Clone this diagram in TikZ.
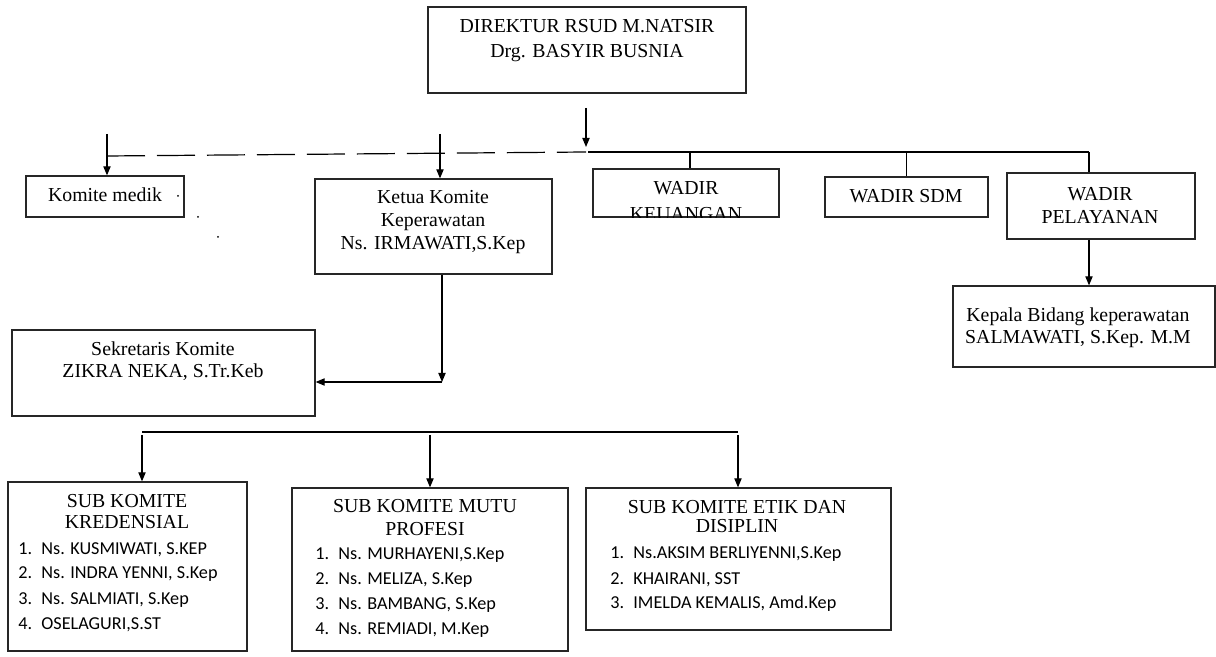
\documentclass[tikz,border=0pt]{standalone}
\usepackage{fontspec}
\setmainfont{Liberation Serif}
\newfontfamily\listfont{Carlito}
\usetikzlibrary{arrows.meta,positioning}
\newcommand{\numlabel}[1]{\makebox[11.5pt][l]{#1}}

\begin{document}
\begin{tikzpicture}[x=0.5pt,y=-0.5pt,
    box/.style={draw=black!85,line width=0.6pt,inner sep=0pt},
    txt/.style={align=center,inner sep=0pt,font=\fontsize{9.9}{11.5}\selectfont},
    lst/.style={align=left,inner sep=0pt,font=\listfont\fontsize{9.1}{12.5}\selectfont},
    arr/.style={line width=0.6pt,-{Triangle[length=4.5pt,width=3.6pt]}},
    link/.style={line width=0.6pt}]
    \useasboundingbox (0,0) rectangle (1216,657);

    % Direktur (anchor base = baris terakhir)
    \node[box,minimum width=159pt,minimum height=43pt] (dir) at (587,50) {};
    \node[txt,anchor=base,font=\fontsize{9.9}{12.5}\selectfont] (dir-t) at (587,58) {DIREKTUR RSUD M.NATSIR\\Drg. BASYIR BUSNIA};

    % Baris kedua
    \node[box,minimum width=79pt,minimum height=20.5pt] (km) at (105,196.5) {};
    \node[txt,anchor=base] (km-t) at (105,202) {Komite medik};
    \node[box,minimum width=118.5pt,minimum height=47.5pt] (ket) at (433.5,226.5) {};
    \node[txt,anchor=base] (ket-t) at (433,250) {Ketua Komite\\Keperawatan\\Ns. IRMAWATI,S.Kep};
    \node[box,minimum width=93pt,minimum height=24pt] (keu) at (686,193) {};
    \begin{scope}
        \clip (keu.south west) rectangle (keu.north east);
        \node[txt,anchor=base,font=\fontsize{9.9}{13}\selectfont] (keu-t) at (686,221) {WADIR\\KEUANGAN};
    \end{scope}
    \node[box,minimum width=81.5pt,minimum height=20pt] (sdm) at (906.5,197) {};
    \node[txt,anchor=base] (sdm-t) at (906,203) {WADIR SDM};
    \node[box,minimum width=94pt,minimum height=33pt] (pel) at (1101,206) {};
    \node[txt,anchor=base] (pel-t) at (1100,224) {WADIR\\PELAYANAN};
    \node[box,minimum width=131pt,minimum height=40.5pt] (kep) at (1084,326.5) {};
    \node[txt,anchor=base,font=\fontsize{9.9}{11}\selectfont] (kep-t) at (1078,344) {Kepala Bidang keperawatan\\SALMAWATI, S.Kep. M.M};

    % Sekretaris
    \node[box,minimum width=151.5pt,minimum height=43pt] (sek) at (163.5,373) {};
    \node[txt,anchor=base,font=\fontsize{9.9}{11}\selectfont] (sek-t) at (163,378) {Sekretaris Komite\\ZIKRA NEKA, S.Tr.Keb};

    % Sub komite
    \node[box,minimum width=119.5pt,minimum height=84.5pt] (sub1) at (127.5,566.5) {};
    \node[txt,anchor=base,font=\fontsize{9.9}{10.5}\selectfont] (sub1-t) at (127,529) {SUB KOMITE\\KREDENSIAL};
    \node[lst,anchor=base west] (sub1-l) at (18,629) {\numlabel{1.}Ns. KUSMIWATI, S.KEP\\\numlabel{2.}Ns. INDRA YENNI, S.Kep\\\numlabel{3.}Ns. SALMIATI, S.Kep\\\numlabel{4.}OSELAGURI,S.ST};
    \node[box,minimum width=138pt,minimum height=81.5pt] (sub2) at (430,569.5) {};
    \node[txt,anchor=base] (sub2-t) at (425,536) {SUB KOMITE MUTU\\PROFESI};
    \node[lst,anchor=base west] (sub2-l) at (315,634) {\numlabel{1.}Ns. MURHAYENI,S.Kep\\\numlabel{2.}Ns. MELIZA, S.Kep\\\numlabel{3.}Ns. BAMBANG, S.Kep\\\numlabel{4.}Ns. REMIADI, M.Kep};
    \node[box,minimum width=152.5pt,minimum height=71pt] (sub3) at (738.5,559) {};
    \node[txt,anchor=base,font=\fontsize{9.9}{9.8}\selectfont] (sub3-t) at (737,533) {SUB KOMITE ETIK DAN\\DISIPLIN};
    \node[lst,anchor=base west] (sub3-l) at (610,609) {\numlabel{1.}Ns.AKSIM BERLIYENNI,S.Kep\\\numlabel{2.}KHAIRANI, SST\\\numlabel{3.}IMELDA KEMALIS, Amd.Kep};

    % Garis penghubung atas
    \coordinate (d0) at (586,108);
    \coordinate (j0) at (586,152);
    \coordinate (j1) at (107,156);
    \coordinate (j2) at (1089,152);
    \coordinate (k0) at (107,134);
    \coordinate (k1) at (440,134);
    \draw[arr] (d0) -- ([yshift=2.5pt]j0);
    \draw[link,dash pattern=on 19pt off 6pt] (j1) -- (j0);
    \draw[link] ([xshift=1pt]j0) -- (j2);
    \draw[arr] (k0) -- (k0 |- km.north);
    \draw[arr] (k1) -- (k1 |- ket.north);
    \draw[link] ([xshift=2pt]keu.north) -- ([xshift=2pt]keu.north |- j0);
    \draw[link] (sdm.north) -- (sdm.north |- j0);
    \draw[link] (j2) -- (j2 |- pel.north);
    \draw[arr] (j2 |- pel.south) -- (j2 |- kep.north);

    % Ketua ke sekretaris
    \coordinate (s0) at (442,382);
    \draw[arr] (s0 |- ket.south) -- (s0);
    \draw[arr] (s0) -- (s0 -| sek.east);

    % Garis ke sub komite
    \coordinate (b0) at (142,432);
    \coordinate (b1) at (738,432);
    \draw[link] (b0) -- (b1);
    \draw[arr] ([yshift=-1.5pt]b0) -- (b0 |- sub1.north);
    \draw[arr] ([yshift=-1.5pt]b0 -| sub2.north) -- (sub2.north);
    \draw[arr] ([yshift=-1.5pt]b1) -- (b1 |- sub3.north);

    % titik kecil
    \fill (178,196) circle (0.5pt);
    \fill (198,217) circle (0.5pt);
    \fill (218,237) circle (0.5pt);
\end{tikzpicture}
\end{document}
